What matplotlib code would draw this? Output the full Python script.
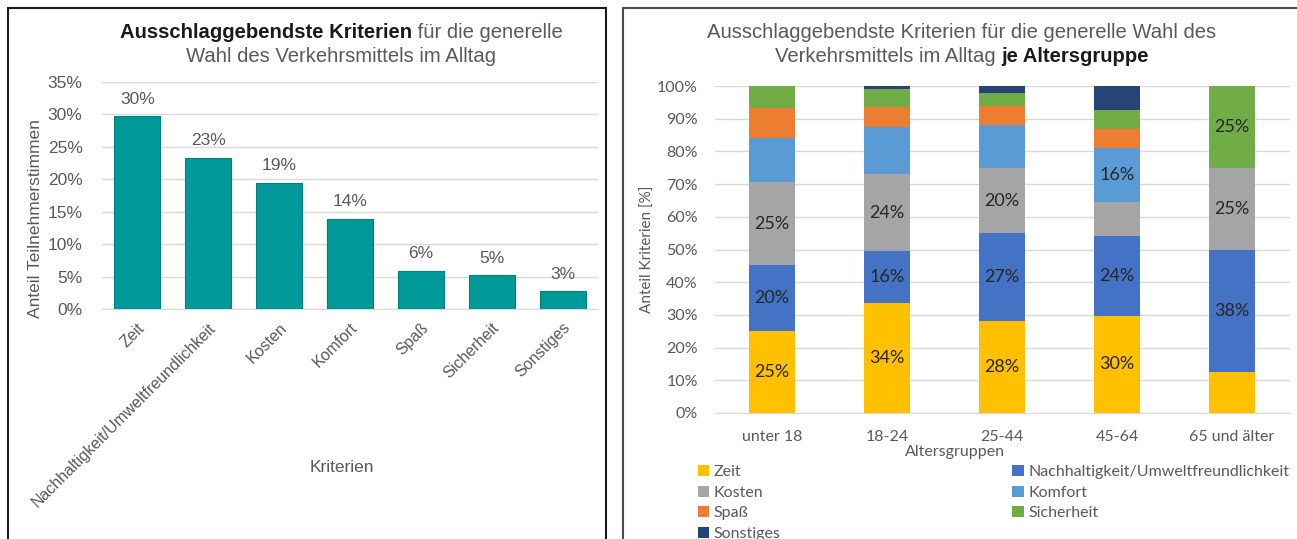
import matplotlib
matplotlib.use("Agg")
import matplotlib.pyplot as plt
from matplotlib.patches import Rectangle, Patch
from matplotlib.ticker import PercentFormatter
import numpy as np

# ---------------- data ----------------
criteria = ["Zeit", "Nachhaltigkeit/Umweltfreundlichkeit", "Kosten", "Komfort",
            "Spaß", "Sicherheit", "Sonstiges"]
overall_share = [29.7, 23.3, 19.4, 13.9, 5.9, 5.2, 2.7]
overall_labels = ["30%", "23%", "19%", "14%", "6%", "5%", "3%"]

age_groups = ["unter 18", "18-24", "25-44", "45-64", "65 und älter"]
zeit = [25.0, 33.5, 28.0, 29.8, 12.5]
nachhaltigkeit = [20.4, 15.9, 27.0, 24.4, 37.5]
kosten = [25.1, 23.8, 19.8, 10.4, 25.0]
komfort = [13.7, 14.4, 13.3, 16.4, 0.0]
spass = [9.1, 6.1, 5.7, 5.9, 0.0]
sicherheit = [6.7, 5.5, 4.0, 5.8, 25.0]
sonstiges = [0.0, 0.8, 2.2, 7.3, 0.0]
# which segments carry a data label (per criterion, per age group)
label_zeit = [True, True, True, True, False]
label_nachhaltigkeit = [True, True, True, True, True]
label_kosten = [True, True, True, False, True]
label_komfort = [False, False, False, True, False]
label_spass = [False, False, False, False, False]
label_sicherheit = [False, False, False, False, True]
label_sonstiges = [False, False, False, False, False]

series = [zeit, nachhaltigkeit, kosten, komfort, spass, sicherheit, sonstiges]
series_labels = [label_zeit, label_nachhaltigkeit, label_kosten, label_komfort,
                 label_spass, label_sicherheit, label_sonstiges]
colors = ["#FFC000", "#4472C4", "#A5A5A5", "#5B9BD5", "#ED7D31", "#70AD47", "#264478"]

# ---------------- figure ----------------
W, H = 1297, 539
fig = plt.figure(figsize=(W / 100, H / 100), dpi=100)
fig.patch.set_facecolor("white")

ARIAL = "Liberation Sans"
CAL = "Lato"
GRAY = "#595959"


def fx(x):
    return x / W


def fy(y):
    return 1 - y / H


# panel borders
fig.add_artist(Rectangle((fx(8), fy(545)), fx(606 - 8), (545 - 8) / H,
                         transform=fig.transFigure, fill=False,
                         edgecolor="#1a1a1a", linewidth=1.5))
fig.add_artist(Rectangle((fx(623), fy(545)), fx(1310 - 623), (545 - 8) / H,
                         transform=fig.transFigure, fill=False,
                         edgecolor="#4d4d4d", linewidth=1.5))

renderer = fig.canvas.get_renderer()


def mixed_line(xc, yc, parts, size, family):
    texts, widths = [], []
    for s, weight, color in parts:
        t = fig.text(0, fy(yc), s, fontsize=size, fontweight=weight,
                     color=color, va="center", ha="left", family=family)
        widths.append(t.get_window_extent(renderer).width)
        texts.append(t)
    x = xc - sum(widths) / 2
    for t, w in zip(texts, widths):
        t.set_x(fx(x))
        x += w


# ---------------- left chart ----------------
axL = fig.add_axes([fx(102), fy(309), fx(598 - 102), (309 - 82) / H])
xL = np.arange(len(criteria))
axL.bar(xL, overall_share, width=0.65, color="#009999", edgecolor="#007f7f",
        linewidth=0.8, zorder=3)
for xi, v, lab in zip(xL, overall_share, overall_labels):
    axL.annotate(lab, (xi, v), xytext=(0, 7), textcoords="offset points",
                 ha="center", va="bottom", fontsize=12.5, color=GRAY, family=ARIAL)
axL.set_xlim(-0.5, len(criteria) - 0.5)
axL.set_ylim(0, 35)
axL.set_yticks(np.arange(0, 36, 5))
axL.yaxis.set_major_formatter(PercentFormatter(decimals=0))
axL.grid(axis="y", color="#d9d9d9", linewidth=1, zorder=0)
for s in ["top", "right", "left"]:
    axL.spines[s].set_visible(False)
axL.spines["bottom"].set_color("#d9d9d9")
axL.tick_params(axis="y", length=0, pad=14, labelsize=12.5, labelcolor=GRAY)
axL.tick_params(axis="x", length=0, pad=8, labelsize=11.5, labelcolor=GRAY)
axL.set_xticks(xL)
axL.set_xticklabels(criteria, rotation=45, ha="right", rotation_mode="anchor",
                    family=ARIAL)
for lab in axL.get_yticklabels():
    lab.set_family(ARIAL)
axL.set_ylabel("Anteil Teilnehmerstimmen", fontsize=12.5, color=GRAY,
               family=ARIAL)
axL.yaxis.set_label_coords((43 - 102) / 496, 0.4)
fig.text(fx(342), fy(467), "Kriterien", ha="center", va="center", fontsize=12.5,
         color=GRAY, family=ARIAL)

mixed_line(341, 32, [("Ausschlaggebendste Kriterien", "bold", "#1a1a1a"),
                     (" für die generelle", "normal", GRAY)], 14.6, ARIAL)
mixed_line(341, 56, [("Wahl des Verkehrsmittels im Alltag", "normal", GRAY)],
           14.6, ARIAL)

# ---------------- right chart ----------------
axR = fig.add_axes([fx(714.5), fy(413), fx(575), (413 - 86) / H])
xR = np.arange(len(age_groups))
bottom = np.zeros(len(age_groups))
for name, vals, col, labs in zip(criteria, series, colors, series_labels):
    v = np.array(vals) / 100
    axR.bar(xR, v, bottom=bottom, width=0.4, color=col, label=name, zorder=3)
    for xi, b, h, show in zip(xR, bottom, v, labs):
        if show:
            axR.text(xi, b + h / 2, f"{round(h * 100):.0f}%", ha="center",
                     va="center", fontsize=13, color="#262626", family=CAL,
                     zorder=4)
    bottom = bottom + v
axR.set_xlim(-0.5, len(age_groups) - 0.5)
axR.set_ylim(0, 1)
axR.set_yticks(np.arange(0, 1.01, 0.1))
axR.yaxis.set_major_formatter(PercentFormatter(xmax=1, decimals=0))
axR.grid(axis="y", color="#d9d9d9", linewidth=1, zorder=0)
for s in ["top", "right", "left"]:
    axR.spines[s].set_visible(False)
axR.spines["bottom"].set_color("#d9d9d9")
axR.tick_params(axis="y", length=0, pad=12, labelsize=11.5, labelcolor=GRAY)
axR.tick_params(axis="x", length=0, pad=12, labelsize=11.5, labelcolor=GRAY)
axR.set_xticks(xR)
axR.set_xticklabels(age_groups, family=CAL)
for lab in axR.get_yticklabels():
    lab.set_family(CAL)
axR.set_ylabel("Anteil Kriterien [%]", fontsize=11, color=GRAY, family=CAL)
axR.yaxis.set_label_coords((655 - 714.5) / 575, 0.5)
fig.text(fx(955), fy(452), "Altersgruppen", ha="center", va="center",
         fontsize=11.5, color=GRAY, family=CAL)

mixed_line(962, 32, [("Ausschlaggebendste Kriterien für die generelle Wahl des",
                      "normal", GRAY)], 14.6, ARIAL)
mixed_line(962, 56, [("Verkehrsmittels im Alltag ", "normal", GRAY),
                     ("je Altersgruppe", "bold", "#1a1a1a")], 14.6, ARIAL)

# legend: column-wise order gives the reference's row-wise reading order
order = [0, 2, 4, 6, 1, 3, 5]
handles = [Patch(facecolor=colors[i], edgecolor="none") for i in order]
labels = [criteria[i] for i in order]
leg = fig.legend(handles, labels, ncol=2, loc="upper left",
                 bbox_to_anchor=(fx(698), fy(465)), frameon=False,
                 prop={"family": CAL, "size": 11.5}, labelcolor=GRAY,
                 handlelength=0.7, handleheight=0.7, handletextpad=0.3,
                 columnspacing=14.5, labelspacing=0.40, borderpad=0,
                 borderaxespad=0)

fig.savefig("out.png", dpi=100, facecolor="white")
